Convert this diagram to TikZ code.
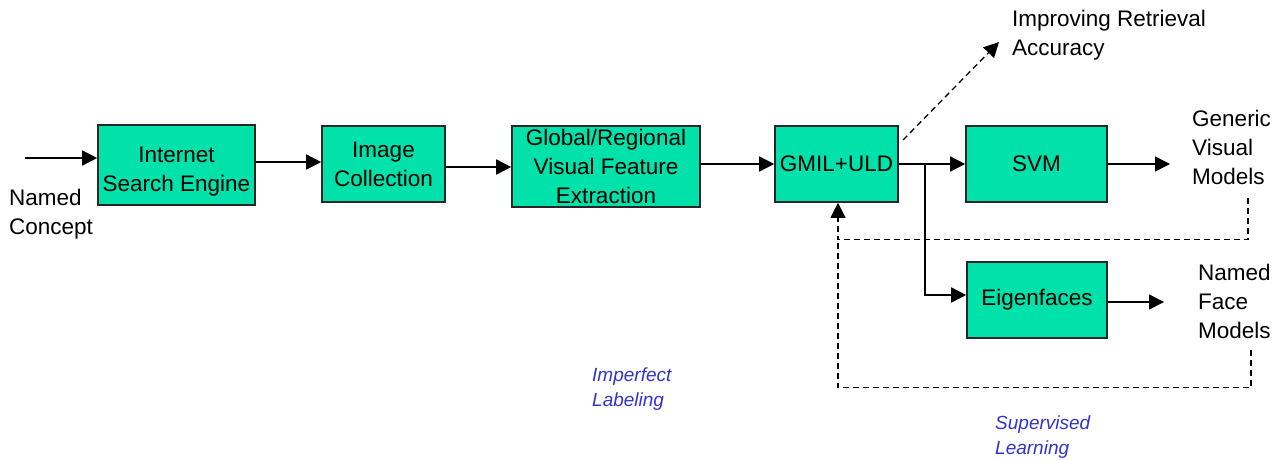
\documentclass[tikz,border=0pt]{standalone}
\usepackage{fontspec}
\setmainfont{Liberation Sans}
\usetikzlibrary{arrows.meta}
\definecolor{boxgreen}{RGB}{0,226,170}
\definecolor{lblblue}{RGB}{51,51,204}
\begin{document}
\begin{tikzpicture}[x=1pt,y=-1pt,
  box/.style={draw=black!85, line width=1.6pt, fill=boxgreen, inner sep=0pt, align=center,
    font=\fontsize{22.5}{29}\selectfont},
  lbl/.style={align=left, inner sep=0pt, anchor=west, font=\fontsize{22.5}{29}\selectfont},
  note/.style={align=left, inner sep=0pt, anchor=west, text=lblblue, font=\fontsize{19}{24.5}\selectfont\itshape},
  conn/.style={line width=1.5pt, -{Triangle[length=15pt,width=15pt]}},
  fb/.style={line width=1.3pt, dash pattern=on 6pt off 4pt}]
\useasboundingbox (0,0) rectangle (1281,459);
% boxes
\node[box, minimum width=157, minimum height=80] (ise) at (176.5,165) {\rule{0pt}{28pt}Internet\\Search Engine};
\node[box, minimum width=123, minimum height=76] (img) at (383.5,164) {Image\\Collection};
\node[box, minimum width=188, minimum height=81] (gvf) at (606,166.5) {Global/Regional\\Visual Feature\\Extraction};
\node[box, minimum width=123, minimum height=76] (gmil) at (836.5,164) {GMIL+ULD};
\node[box, minimum width=141, minimum height=76] (svm) at (1036.5,164) {SVM};
\node[box, minimum width=140, minimum height=76] (eig) at (1037,300) {Eigenfaces};
% labels
\node[lbl] (nc) at (9,214.5) {Named\\Concept};
\node[lbl] (ira) at (1012,35) {Improving Retrieval\\Accuracy};
\node[lbl] (gvm) at (1192,147.5) {Generic\\Visual\\Models};
\node[lbl] (nfm) at (1198,301) {Named\\Face\\Models};
\node[note] (il) at (592,389) {Imperfect\\Labeling};
\node[note] (sl) at (995,437) {Supervised\\Learning};
% coordinates
\coordinate (in) at (25,158);
\coordinate (br) at (925,164);
\coordinate (d0) at (903,140);
\coordinate (d1) at (999,42);
\coordinate (g1) at (1248,198);
\coordinate (n1) at (1251,350);
\coordinate (svmend) at (1170,164);
\coordinate (eigend) at (1164,302);
% connectors
\draw[conn] (in) -- (ise.west |- in);
\draw[conn] ([yshift=3pt]ise.east) -- ([yshift=3pt]ise.east -| img.west);
\draw[conn] ([yshift=-3pt]img.east) -- ([yshift=-3pt]img.east -| gvf.west);
\draw[conn] (gvf.east |- gmil.east) -- (gmil.west);
\draw[conn] (gmil.east) -- (svm.west);
\draw[conn] (br) |- ([yshift=5pt]eig.west);
\draw[conn] (svm.east) -- (svmend);
\draw[conn] (eig.east |- eigend) -- (eigend);
\draw[fb, -{Triangle[length=15pt,width=15pt]}] (d0) -- (d1);
\draw[fb, -{Triangle[length=15pt,width=15pt]}] (g1) |- ([xshift=1.5pt,yshift=-37pt]gmil.south) -- ([xshift=1.5pt]gmil.south);
\draw[fb] (n1) |- ([xshift=1.5pt,yshift=-185pt]gmil.south) -- ([xshift=1.5pt,yshift=-37pt]gmil.south);
\end{tikzpicture}
\end{document}
